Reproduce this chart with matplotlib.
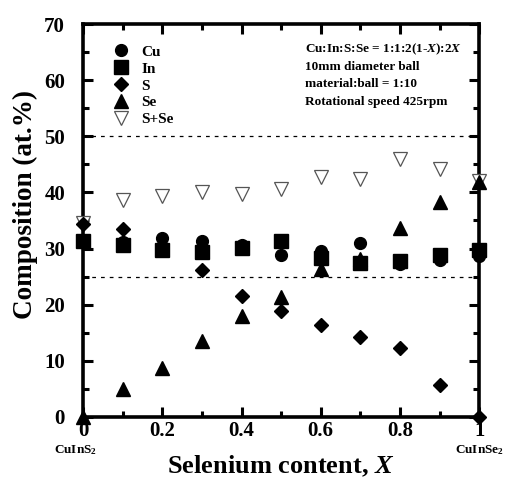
import numpy as np
import matplotlib
matplotlib.use("Agg")
import matplotlib.pyplot as plt
from matplotlib.ticker import MultipleLocator

plt.rcParams['font.family'] = ['Liberation Serif', 'DejaVu Serif']
plt.rcParams['font.weight'] = 'bold'
plt.rcParams['mathtext.fontset'] = 'custom'
plt.rcParams['mathtext.rm'] = 'Liberation Serif:bold'
plt.rcParams['mathtext.it'] = 'Liberation Serif:italic:bold'
plt.rcParams['mathtext.bf'] = 'Liberation Serif:bold'

# selenium fraction X and measured compositions (at.%)
x_se = [0, 0.1, 0.2, 0.3, 0.4, 0.5, 0.6, 0.7, 0.8, 0.9, 1.0]
cu = [31.3, 31.2, 31.8, 31.4, 30.6, 28.8, 29.6, 31.0, 27.2, 27.9, 28.6]
indium = [31.3, 30.6, 29.7, 29.4, 30.1, 31.4, 28.4, 27.4, 27.8, 28.8, 29.8]
sulfur = [34.3, 33.5, 30.5, 26.2, 21.6, 18.8, 16.4, 14.2, 12.2, 5.7, 0.0]
selen = [0.0, 4.9, 8.7, 13.5, 18.0, 21.3, 26.4, 28.2, 33.6, 38.3, 41.9]
s_plus_se = [34.6, 38.7, 39.3, 40.0, 39.8, 40.6, 42.8, 42.4, 45.9, 44.1, 42.1]

fig = plt.figure(figsize=(5.07, 4.83), dpi=100)
ax = fig.add_axes([0.164, 0.137, 0.781, 0.813])

ax.axhline(50, color='black', ls=(0, (3, 4)), lw=0.9)
ax.axhline(25, color='black', ls=(0, (3, 4)), lw=0.9)

ax.plot(x_se, s_plus_se, 'v', ms=10.5, mfc='white', mec='#555555', mew=0.9,
        ls='none', label='S+Se', zorder=3, clip_on=False)
ax.plot(x_se, cu, 'o', ms=8.5, color='black', ls='none', label='Cu', zorder=4, clip_on=False)
ax.plot(x_se, indium, 's', ms=9.5, color='black', ls='none', label='In', zorder=4, clip_on=False)
ax.plot(x_se, sulfur, 'D', ms=7.5, color='black', ls='none', label='S', zorder=4, clip_on=False)
ax.plot(x_se, selen, '^', ms=10, color='black', ls='none', label='Se', zorder=4, clip_on=False)

handles, labels = ax.get_legend_handles_labels()
order = [1, 2, 3, 4, 0]
leg = ax.legend([handles[i] for i in order], [labels[i] for i in order],
                loc='upper left', bbox_to_anchor=(0.05, 0.97), frameon=False,
                fontsize=11, labelspacing=0.21, handletextpad=0.7,
                handlelength=1.2, borderaxespad=0.2)
for t in leg.get_texts():
    t.set_fontweight('bold')

info = ["Cu:In:S:Se = 1:1:2(1-$X$):2$X$",
        "10mm diameter ball",
        "material:ball = 1:10",
        "Rotational speed 425rpm"]
for i, line in enumerate(info):
    ax.text(0.56, 0.935 - i * 0.044, line, transform=ax.transAxes,
            fontsize=9.5, fontweight='bold', va='center', ha='left')

ax.set_xlim(0, 1)
ax.set_ylim(0, 70)
ax.xaxis.set_major_locator(MultipleLocator(0.2))
ax.xaxis.set_minor_locator(MultipleLocator(0.1))
ax.yaxis.set_major_locator(MultipleLocator(10))
ax.yaxis.set_minor_locator(MultipleLocator(5))
ax.set_xticks([0, 0.2, 0.4, 0.6, 0.8, 1.0])
ax.set_xticklabels(['0', '0.2', '0.4', '0.6', '0.8', '1'])
ax.tick_params(which='both', direction='in', top=True, right=True,
               width=2.2, labelsize=15)
ax.tick_params(axis='x', pad=3)
ax.tick_params(axis='y', pad=13)
ax.tick_params(which='major', length=7)
ax.tick_params(which='minor', length=4)
for lab in ax.get_xticklabels() + ax.get_yticklabels():
    lab.set_fontweight('bold')
for sp in ax.spines.values():
    sp.set_linewidth(2.6)

ax.set_xlabel('Selenium content, $X$', fontsize=19, fontweight='bold')
ax.xaxis.set_label_coords(0.5, -0.094)
ax.set_ylabel('Composition (at.%)', fontsize=19.5, fontweight='bold')
ax.yaxis.set_label_coords(-0.114, 0.54)

ax.text(-0.02, -0.086, 'CuInS$_2$', transform=ax.transAxes, ha='center', va='center',
        fontsize=9.5, fontweight='bold')
ax.text(1, -0.086, 'CuInSe$_2$', transform=ax.transAxes, ha='center', va='center',
        fontsize=9.5, fontweight='bold')

fig.savefig('out.png', dpi=100)
